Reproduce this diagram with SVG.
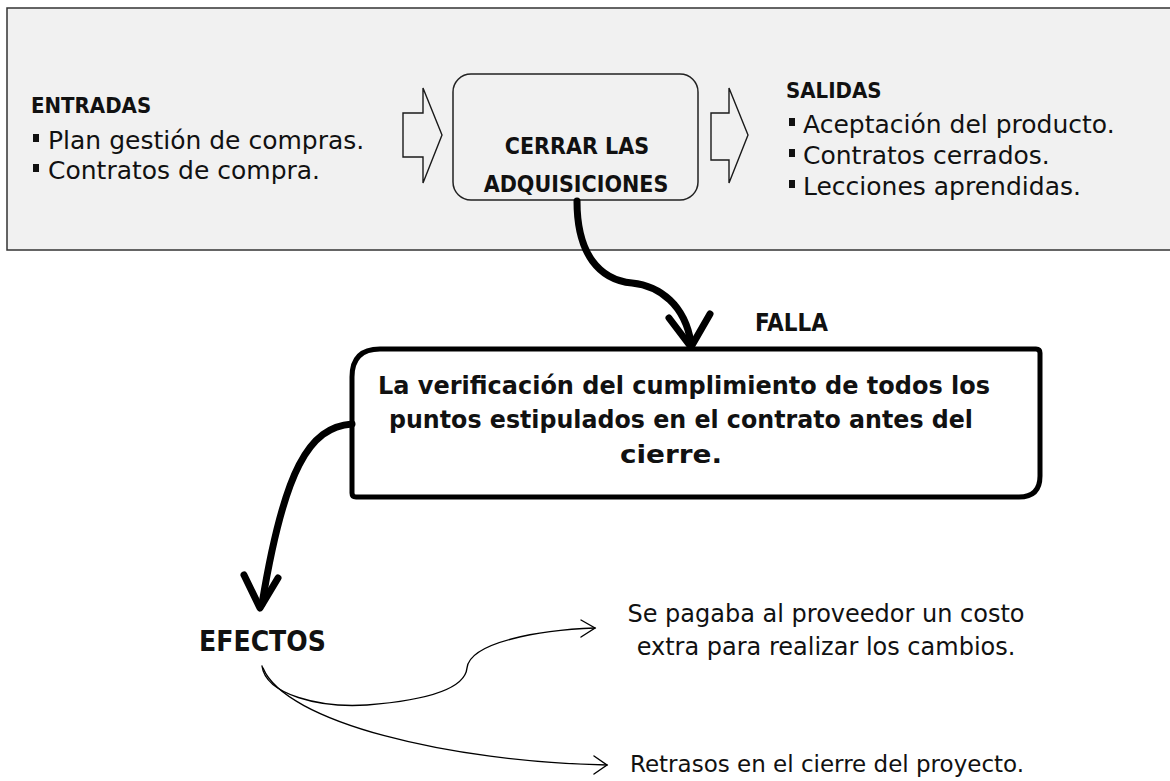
<svg xmlns="http://www.w3.org/2000/svg" width="1170" height="781" viewBox="0 0 1170 781">
<style>
.b{font-family:"DejaVu Sans Condensed","DejaVu Sans",sans-serif;font-weight:bold;fill:#111}
.r{font-family:"DejaVu Sans",sans-serif;fill:#111}
.bb{font-family:"DejaVu Sans",sans-serif;font-weight:bold;fill:#111}
.hol{fill:none;stroke:#1a1a1a;stroke-width:1.4;stroke-linejoin:miter}
.thick{fill:none;stroke:#000;stroke-width:7;stroke-linecap:round;stroke-linejoin:round}
.thin{fill:none;stroke:#000;stroke-width:1.4;stroke-linecap:round}
.bul{fill:#111}
</style>
<rect width="1170" height="781" fill="#fff"/>
<g id="panel">
<rect x="7" y="8" width="1170" height="242" fill="#f1f1f1" stroke="#333" stroke-width="1.5"/>
</g>
<g id="entradas">
<text class="b" x="31" y="113" font-size="22">ENTRADAS</text>
<rect class="bul" x="33" y="134" width="6" height="8"/>
<text class="r" x="48" y="149" font-size="25">Plan gestión de compras.</text>
<rect class="bul" x="33" y="164" width="6" height="8"/>
<text class="r" x="48" y="179" font-size="25">Contratos de compra.</text>
</g>
<g id="arrow-in">
<path class="hol" d="M403,113 L423,113 L423,88 L442,135 L423,183 L423,157 L403,157 Z"/>
</g>
<g id="cerrar">
<rect x="453" y="74" width="245" height="126" rx="18" fill="#f1f1f1" stroke="#222" stroke-width="1.5"/>
<text class="b" x="577" y="154" font-size="23" text-anchor="middle">CERRAR LAS</text>
<text class="b" x="576" y="192" font-size="23" text-anchor="middle">ADQUISICIONES</text>
</g>
<g id="arrow-out">
<path class="hol" d="M711,113 L729,113 L729,88 L748,135 L729,183 L729,160 L711,160 Z"/>
</g>
<g id="salidas">
<text class="b" x="786" y="98" font-size="22">SALIDAS</text>
<rect class="bul" x="789" y="118" width="6" height="8"/>
<text class="r" x="803" y="133" font-size="25">Aceptación del producto.</text>
<rect class="bul" x="789" y="149" width="6" height="8"/>
<text class="r" x="803" y="164" font-size="25">Contratos cerrados.</text>
<rect class="bul" x="789" y="180" width="6" height="8"/>
<text class="r" x="803" y="195" font-size="25">Lecciones aprendidas.</text>
</g>
<g id="falla-label">
<text class="b" x="755" y="331" font-size="24">FALLA</text>
</g>
<g id="falla">
<path d="M352,377 Q352,349 380,349 L1036,349 Q1040,349 1040,353 L1040,476 Q1040,497 1019,497 L356,497 Q352,497 352,493 Z" fill="#fff" stroke="#000" stroke-width="5"/>
<text class="bb" x="684" y="394" font-size="24" text-anchor="middle" textLength="612" lengthAdjust="spacingAndGlyphs">La verificación del cumplimiento de todos los</text>
<text class="bb" x="681" y="428" font-size="24" text-anchor="middle" textLength="584" lengthAdjust="spacingAndGlyphs">puntos estipulados en el contrato antes del</text>
<text class="bb" x="620" y="463" font-size="24" textLength="102" lengthAdjust="spacingAndGlyphs">cierre.</text>
</g>
<g id="efectos">
<text class="b" x="199" y="651" font-size="28">EFECTOS</text>
</g>
<g id="effect1">
<text class="r" x="826" y="622" font-size="24" text-anchor="middle">Se pagaba al proveedor un costo</text>
<text class="r" x="826" y="655" font-size="24" text-anchor="middle">extra para realizar los cambios.</text>
</g>
<g id="effect2">
<text class="r" x="630" y="772" font-size="23">Retrasos en el cierre del proyecto.</text>
</g>
<g id="connectors">
<path class="thick" d="M577,201 C577,255 600,280 632,283 C660,286 685,305 691,343"/>
<path class="thick" d="M669,318 L691,347 L710,314"/>
<path class="thick" d="M352,424 C309,427 284,470 262,604"/>
<path class="thick" d="M244,575 L260,608 L278,578"/>
<path class="thin" d="M262,666 C266,695 320,708 367,705 C430,700 465,688 467,668 C470,642 540,630 595,628"/>
<path class="thin" d="M581,620 L595,628 L581,637"/>
<path class="thin" d="M263,668 C285,722 450,762 607,765"/>
<path class="thin" d="M594,756 L607,765 L594,774"/>
</g>
</svg>
